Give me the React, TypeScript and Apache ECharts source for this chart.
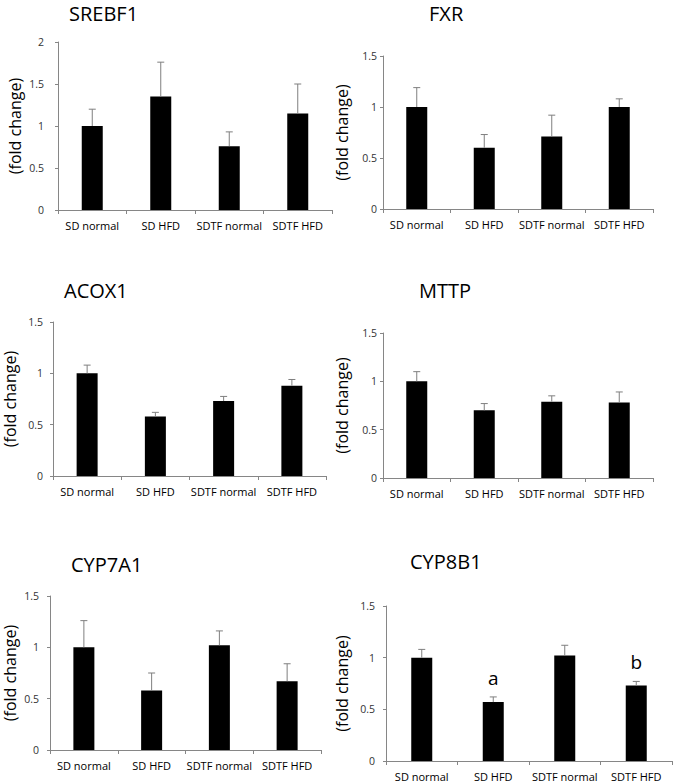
import React, { useEffect, useRef } from "react";
import * as echarts from "echarts";

const CATEGORIES = ["SD normal", "SD HFD", "SDTF normal", "SDTF HFD"];

const SREBF1_MEAN = [1.0, 1.35, 0.76, 1.15];
const SREBF1_ERR = [0.2, 0.41, 0.17, 0.35];
const FXR_MEAN = [1.0, 0.6, 0.71, 1.0];
const FXR_ERR = [0.19, 0.13, 0.21, 0.08];
const ACOX1_MEAN = [1.0, 0.58, 0.73, 0.88];
const ACOX1_ERR = [0.08, 0.04, 0.045, 0.06];
const MTTP_MEAN = [1.0, 0.7, 0.79, 0.78];
const MTTP_ERR = [0.1, 0.07, 0.06, 0.11];
const CYP7A1_MEAN = [1.0, 0.58, 1.02, 0.67];
const CYP7A1_ERR = [0.26, 0.17, 0.14, 0.17];
const CYP8B1_MEAN = [1.0, 0.57, 1.02, 0.73];
const CYP8B1_ERR = [0.08, 0.05, 0.1, 0.04];
const CYP8B1_MARKS = ["", "a", "", "b"];
const NO_MARKS = ["", "", "", ""];

const Y_MAX = [2, 1.5, 1.5, 1.5, 1.5, 1.5];
const Y_INTERVAL = 0.5;
const Y_NAME = "(fold change)";

const FONT = "'Open Sans', 'DejaVu Sans', sans-serif";

const PANELS = [
  { title: "SREBF1", mean: SREBF1_MEAN, err: SREBF1_ERR, marks: NO_MARKS },
  { title: "FXR", mean: FXR_MEAN, err: FXR_ERR, marks: NO_MARKS },
  { title: "ACOX1", mean: ACOX1_MEAN, err: ACOX1_ERR, marks: NO_MARKS },
  { title: "MTTP", mean: MTTP_MEAN, err: MTTP_ERR, marks: NO_MARKS },
  { title: "CYP7A1", mean: CYP7A1_MEAN, err: CYP7A1_ERR, marks: NO_MARKS },
  { title: "CYP8B1", mean: CYP8B1_MEAN, err: CYP8B1_ERR, marks: CYP8B1_MARKS },
];

// layout (pixels)
const LAYOUT = [
  { left: 58, top: 42, width: 274, height: 168, tx: 69, ty: 15, gap: 35, lm: 14 },
  { left: 383, top: 56, width: 270, height: 153, tx: 429, ty: 15, gap: 33, lm: 6 },
  { left: 53, top: 322, width: 273, height: 154, tx: 64, ty: 292, gap: 35, lm: 10 },
  { left: 383, top: 333, width: 270, height: 145, tx: 419, ty: 292, gap: 33, lm: 6 },
  { left: 50, top: 596, width: 271, height: 154, tx: 71, ty: 566, gap: 32, lm: 11 },
  { left: 386, top: 606, width: 286, height: 155, tx: 410, ty: 563, gap: 36, lm: 11 },
];

const AXIS_COLOR = "#868686";
const ERR_COLOR = "#7f7f7f";

export default function App() {
  const ref = useRef<HTMLDivElement>(null);
  useEffect(() => {
    if (!ref.current) return;
    const chart = echarts.init(ref.current, undefined, { renderer: "svg" });

    const grid: any[] = [];
    const xAxis: any[] = [];
    const yAxis: any[] = [];
    const series: any[] = [];
    const graphic: any[] = [];

    PANELS.forEach((p, i) => {
      const L = LAYOUT[i];
      grid.push({ left: L.left, top: L.top, width: L.width, height: L.height, containLabel: false });
      xAxis.push({
        type: "category",
        gridIndex: i,
        data: CATEGORIES,
        boundaryGap: true,
        axisLine: { show: true, lineStyle: { color: AXIS_COLOR, width: 1 } },
        axisTick: { show: true, length: 4, alignWithLabel: false, lineStyle: { color: AXIS_COLOR } },
        axisLabel: { interval: 0, color: "#000", fontSize: 11, fontFamily: FONT, margin: 10 },
        splitLine: { show: false },
      });
      yAxis.push({
        type: "value",
        gridIndex: i,
        min: 0,
        max: Y_MAX[i],
        interval: Y_INTERVAL,
        axisLine: { show: true, lineStyle: { color: AXIS_COLOR, width: 1 } },
        axisTick: { show: true, length: 3, lineStyle: { color: AXIS_COLOR } },
        axisLabel: { color: "#333", fontSize: 10.5, fontFamily: FONT, margin: L.lm },
        splitLine: { show: false },
        name: Y_NAME,
        nameLocation: "middle",
        nameRotate: 90,
        nameGap: L.gap,
        nameTextStyle: { color: "#000", fontSize: 16, fontFamily: FONT },
      });
      series.push({
        type: "bar",
        xAxisIndex: i,
        yAxisIndex: i,
        data: p.mean,
        barWidth: 21,
        itemStyle: { color: "#000" },
        silent: true,
      });
      const marks = p.marks;
      series.push({
        type: "custom",
        xAxisIndex: i,
        yAxisIndex: i,
        z: 5,
        silent: true,
        data: p.mean.map((m, k) => [k, m, m + p.err[k]]),
        renderItem: (params: any, api: any) => {
          const idx = api.value(0);
          const m = api.value(1);
          const up = api.value(2);
          const p0 = api.coord([idx, m]);
          const p1 = api.coord([idx, up]);
          const children: any[] = [
            {
              type: "line",
              shape: { x1: p0[0], y1: p0[1], x2: p1[0], y2: p1[1] },
              style: { stroke: ERR_COLOR, lineWidth: 1 },
            },
            {
              type: "line",
              shape: { x1: p1[0] - 3.5, y1: p1[1], x2: p1[0] + 3.5, y2: p1[1] },
              style: { stroke: ERR_COLOR, lineWidth: 1 },
            },
          ];
          const mk = marks[params.dataIndex];
          if (mk) {
            children.push({
              type: "text",
              style: {
                text: mk,
                x: p1[0],
                y: p1[1] - 19,
                fill: "#000",
                fontSize: 19,
                fontFamily: FONT,
                align: "center",
                verticalAlign: "middle",
                textAlign: "center",
                textVerticalAlign: "middle",
              },
            });
          }
          return { type: "group", children };
        },
      });
      graphic.push({
        type: "text",
        left: L.tx,
        top: L.ty - 12,
        style: { text: p.title, fill: "#000", fontSize: 20, fontFamily: FONT },
      });
    });

    chart.setOption({
      animation: false,
      backgroundColor: "#fff",
      grid,
      xAxis,
      yAxis,
      series,
      graphic,
    });
    return () => chart.dispose();
  }, []);

  return (
    <div
      ref={ref}
      style={{ position: "fixed", left: 0, top: 0, width: 673, height: 783, background: "#fff" }}
    />
  );
}
